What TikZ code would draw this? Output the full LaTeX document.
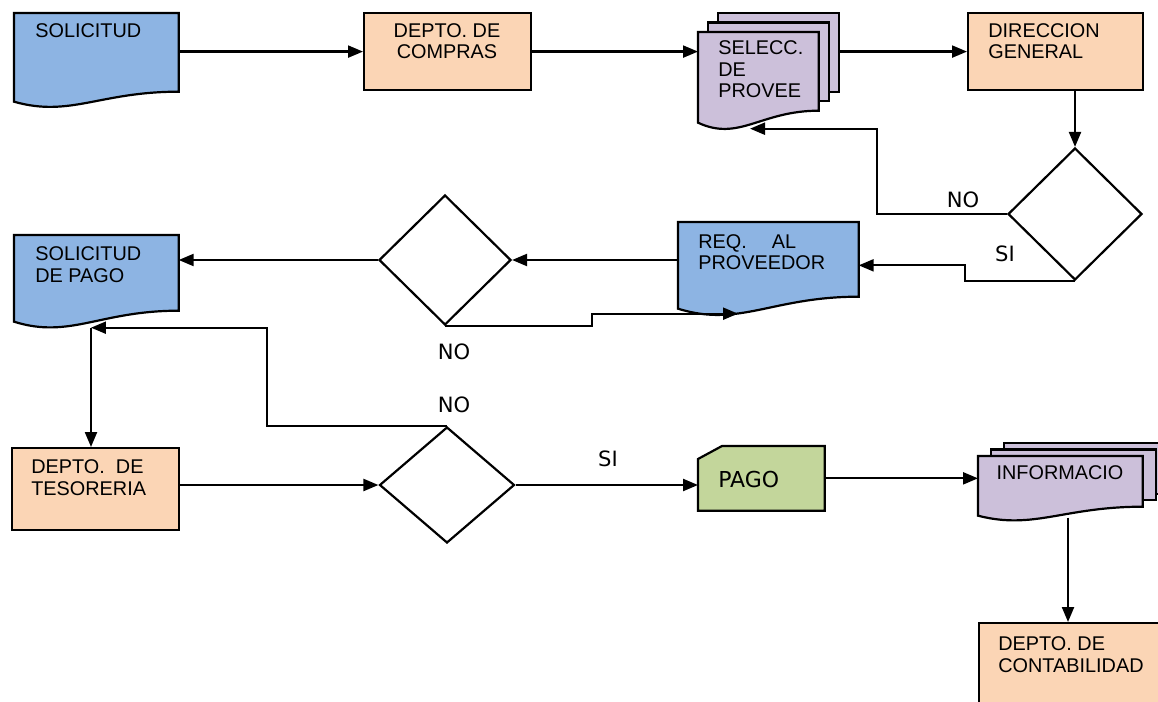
\documentclass[tikz,border=0pt]{standalone}
\usepackage{fontspec}
\setmainfont{Liberation Sans}
\newfontfamily\tagfont{DejaVu Sans}
\usepackage{tikz}
\usetikzlibrary{arrows.meta, positioning, calc, shapes.geometric}
\definecolor{docblue}{RGB}{141, 180, 227}
\definecolor{deptbg}{RGB}{251, 213, 181}
\definecolor{stackbg}{RGB}{204, 192, 218}
\definecolor{paybg}{RGB}{195, 214, 155}

% document outline: node, fill, rise of the right end
\newcommand{\docoutline}[3]{%
  \draw[shapeline, fill=#2] (#1.north west) -- (#1.north east) -- ([yshift=#3]#1.south east)
    .. controls ($(#1.south west)!0.52!(#1.south east)+(0,#3)$)
    and ($(#1.south west)!0.34!(#1.south east)+(0,-1.6*#3)$) .. (#1.south west) -- cycle;}
% stack of documents: node, fill, rise, sheet offset x, sheet offset y
\newcommand{\docstack}[5]{%
  \foreach \k in {2,1}
    \draw[shapeline, fill=#2] ([shift={(\k*#4,\k*#5)}]#1.north west)
      rectangle ([shift={(\k*#4,\k*#5+#3)}]#1.south east);
  \docoutline{#1}{#2}{#3}}

\begin{document}
\begin{tikzpicture}[
  x=0.02cm, y=-0.02cm,
  shapeline/.style={draw, line width=1.25pt},
  box/.style={rectangle, inner sep=0pt, anchor=north west},
  proc/.style={box, shapeline, fill=deptbg},
  decision/.style={diamond, shapeline, inner sep=0pt, fill=white},
  txt/.style={inner sep=0pt, anchor=base west, align=left,
              font=\fontsize{11.3}{12.5}\selectfont},
  tag/.style={inner sep=0pt, anchor=base, font=\tagfont\fontsize{12}{14}\selectfont},
  arr/.style={-{Triangle[length=0.3cm, width=0.24cm]}, line width=1.25pt}
]
  \useasboundingbox (0,0) rectangle (1158,702);

  % ── Nodes ──────────────────────────────────────────────────────────────────
  \node[box, minimum width=3.28cm, minimum height=1.76cm] (sol) at (14,13) {};
  \node[proc, minimum width=3.34cm, minimum height=1.54cm] (compras) at (363,12) {};
  \node[box, minimum width=2.4cm, minimum height=1.8cm] (sel) at (698,32) {};
  \node[proc, minimum width=3.5cm, minimum height=1.54cm] (dir) at (967,12) {};
  \node[decision, minimum width=2.68cm, minimum height=2.64cm] (d1) at (1075,214) {};

  \node[box, minimum width=3.6cm, minimum height=1.72cm] (req) at (678,222) {};
  \node[decision, minimum width=2.64cm, minimum height=2.6cm] (d2) at (445,260) {};
  \node[box, minimum width=3.28cm, minimum height=1.72cm] (solp) at (14,235) {};

  \node[proc, minimum width=3.34cm, minimum height=1.64cm] (tes) at (11,447) {};
  \node[decision, minimum width=2.7cm, minimum height=2.32cm] (d3) at (447,485) {};
  \node[box, minimum width=2.52cm, minimum height=1.28cm] (pago) at (698,446) {};
  \node[box, minimum width=3.28cm, minimum height=1.18cm] (info) at (978,456) {};
  \node[proc, minimum width=4cm, minimum height=1.8cm] (cont) at (978,622) {};

  % ── Outlines ───────────────────────────────────────────────────────────────
  \docoutline{sol}{docblue}{0.2cm}
  \docstack{sel}{stackbg}{0.24cm}{0.2cm}{0.19cm}
  \docoutline{req}{docblue}{0.24cm}
  \docoutline{solp}{docblue}{0.22cm}
  \docstack{info}{stackbg}{0.18cm}{0.26cm}{0.13cm}
  \draw[shapeline, fill=paybg] ([yshift=-0.26cm]pago.north west)
    -- ([xshift=0.48cm]pago.north west) -- (pago.north east)
    -- (pago.south east) -- (pago.south west) -- cycle;

  % ── Texts (base = last line) ───────────────────────────────────────────────
  \node[txt] (solT) at (35,38) {SOLICITUD};
  \node[txt, anchor=base, align=center] (comprasT) at (447,59) {DEPTO. DE\\COMPRAS};
  \node[txt] (selT) at (718,98) {SELECC.\\DE\\PROVEE};
  \node[txt] (dirT) at (988,59) {DIRECCION\\GENERAL};
  \node[txt] (reqT) at (698,270) {REQ.\hspace*{0.5cm}AL\\PROVEEDOR};
  \node[txt] (solpT) at (35,282) {SOLICITUD\\DE PAGO};
  \node[txt] (tesT) at (31,495) {DEPTO.\ \ DE\\TESORERIA};
  \node[tag, anchor=base west, font=\tagfont\fontsize{12.5}{14}\selectfont] (pagoT) at (718,487) {PAGO};
  \node[txt, anchor=base] (infoT) at (1060,479) {INFORMACIO};
  \node[txt] (contT) at (998,672) {DEPTO. DE\\CONTABILIDAD};

  % ── Connections ────────────────────────────────────────────────────────────
  \coordinate (selwave)  at ([shift={(52,6)}]sel.south west);
  \coordinate (reqwave)  at ([shift={(60,5)}]req.south west);
  \coordinate (solpwave) at ([shift={(77,6)}]solp.south west);
  \coordinate (infowave) at ([shift={(90,2)}]info.south west);

  \draw[arr] (sol.east |- compras.west) -- (compras.west);
  \draw[arr] (compras.east) -- (compras.east -| sel.west);
  \draw[arr] ([xshift=0.4cm]sel.east |- dir.west) -- (dir.west);
  \draw[arr] (d1.north |- dir.south) -- (d1.north);
  \draw[arr] (d1.west) -- ++(-130,0) |- (selwave);
  \draw[arr] (d1.south) -- ++(-110,0) |- (req.east);
  \draw[arr] (d2.east -| req.west) -- (d2.east);
  \draw[arr] (d2.west) -- (d2.west -| solp.east);
  \draw[arr] (d2.south) -- ++(147,0) |- (reqwave);
  \draw[arr] (solpwave) -- (solpwave |- tes.north);
  \draw[arr] (tes.east |- d3.west) -- (d3.west);
  \draw[arr] (d3.north) -- ++(-180,0) |- (solpwave);
  \draw[arr] (d3.east) -- (d3.east -| pago.west);
  \draw[arr] (pago.east) -- (pago.east -| info.west);
  \draw[arr] (infowave) -- (infowave |- cont.north);

  % ── Branch labels ──────────────────────────────────────────────────────────
  \node[tag] (no1) at (963,208) {NO};
  \node[tag] (si1) at (1005,261) {SI};
  \node[tag] (no2) at (454,359) {NO};
  \node[tag] (no3) at (454,412) {NO};
  \node[tag] (si2) at (608,466) {SI};
\end{tikzpicture}
\end{document}
